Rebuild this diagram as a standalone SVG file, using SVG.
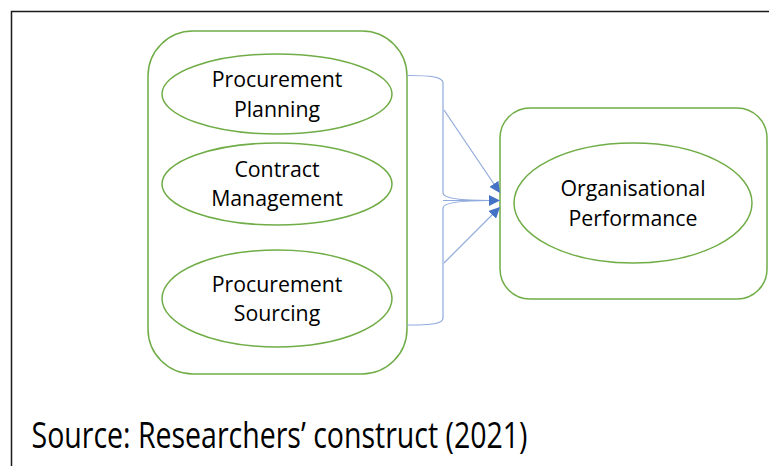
<svg xmlns="http://www.w3.org/2000/svg" width="769" height="466" viewBox="0 0 769 466">
  <defs>
    <style>
      .box { fill: #ffffff; stroke: #70ad47; stroke-width: 1.5; }
      .oval { fill: #ffffff; stroke: #70ad47; stroke-width: 1.5; }
      .label { font-family: "Open Sans", "Noto Sans", "Liberation Sans", sans-serif; font-size: 21.3px; fill: #000000; text-anchor: middle; }
      .link { fill: none; stroke: #8faadc; stroke-width: 1.2; }
      .caption { font-family: "Open Sans", "Noto Sans", "Liberation Sans", sans-serif; font-size: 36px; fill: #000000; }
    </style>
    <marker id="head" viewBox="0 0 10 10" refX="10" refY="5" markerWidth="11" markerHeight="11" markerUnits="userSpaceOnUse" orient="auto">
      <path d="M0,0 L10,5 L0,10 Z" fill="#4472c4"/>
    </marker>
  </defs>

  <rect width="769" height="466" fill="#ffffff"/>
  <!-- page frame (runs off the right and bottom edges) -->
  <path d="M11.5,466 L11.5,11.5 L769,11.5" fill="none" stroke="#1a1a1a" stroke-width="1.5"/>

  <!-- drivers container -->
  <g id="drivers">
    <rect class="box" x="148" y="31" width="259" height="343" rx="45" ry="45"/>
  </g>

  <g id="procurement-planning">
    <ellipse class="oval" cx="277" cy="94" rx="115" ry="40"/>
    <text class="label" x="277" y="87">Procurement</text>
    <text class="label" x="277" y="117">Planning</text>
  </g>

  <g id="contract-management">
    <ellipse class="oval" cx="277" cy="184" rx="115" ry="41"/>
    <text class="label" x="277" y="177">Contract</text>
    <text class="label" x="277" y="206">Management</text>
  </g>

  <g id="procurement-sourcing">
    <ellipse class="oval" cx="277" cy="298.5" rx="115" ry="48.5"/>
    <text class="label" x="277" y="292">Procurement</text>
    <text class="label" x="277" y="321">Sourcing</text>
  </g>

  <!-- outcome container -->
  <g id="outcome">
    <rect class="box" x="500" y="108" width="267" height="191" rx="30" ry="30"/>
  </g>

  <g id="organisational-performance">
    <ellipse class="oval" cx="633" cy="203" rx="119" ry="60"/>
    <text class="label" x="633" y="196">Organisational</text>
    <text class="label" x="633" y="226">Performance</text>
  </g>

  <!-- brace and arrows -->
  <g id="connectors">
    <path class="link" d="M407,75.5 C432,75.5 443,77 443,83 L443,193 C443,198.5 462,200.5 490,200.5"/>
    <path class="link" d="M490,200.5 C462,200.5 443,202.5 443,208 L443,318 C443,324 432,325 407,325"/>
    <line class="link" x1="443" y1="200.5" x2="500" y2="200.5" marker-end="url(#head)"/>
    <line class="link" x1="444" y1="110" x2="500" y2="193" marker-end="url(#head)"/>
    <line class="link" x1="444" y1="263" x2="500" y2="207" marker-end="url(#head)"/>
  </g>

  <text class="caption" x="31.5" y="448" textLength="496" lengthAdjust="spacingAndGlyphs">Source: Researchers’ construct (2021)</text>
</svg>
